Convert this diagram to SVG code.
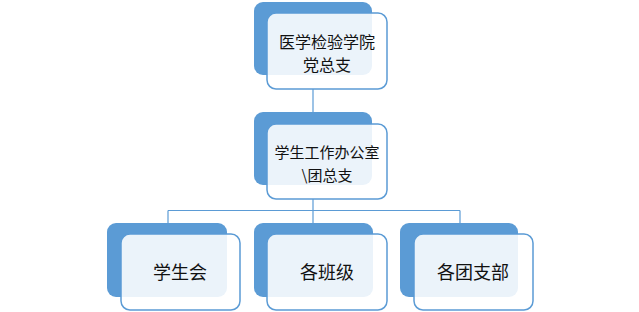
<svg xmlns="http://www.w3.org/2000/svg" width="639" height="312" viewBox="0 0 639 312">
<style>
.back{fill:#5b9bd5;}
.front{fill:#ffffff;fill-opacity:0.88;stroke:#5b9bd5;stroke-width:1.5;}
.conn{fill:none;stroke:#5b9bd5;stroke-width:1.2;}
.t{font-family:"Noto Sans CJK SC","Liberation Serif",serif;fill:#111;text-anchor:middle;}
.s15{font-size:15px;}
.s16{font-size:16px;}
.s18{font-size:18px;}
</style>
<rect width="639" height="312" fill="#ffffff"/>
<g id="connectors">
<path class="conn" d="M313,89 V112"/>
<path class="conn" d="M313,199 V223"/>
<path class="conn" d="M168,210.5 H460"/>
<path class="conn" d="M168,210.5 V223"/>
<path class="conn" d="M460,210.5 V223"/>
</g>
<g id="n1">
<rect class="back" x="254" y="2" width="118" height="73" rx="9"/>
<rect class="front" x="267" y="13" width="120" height="76" rx="9"/>
<text class="t s16" x="327" y="48">医学检验学院</text>
<text class="t s16" x="327" y="71">党总支</text>
</g>
<g id="n2">
<rect class="back" x="254" y="112" width="118" height="73" rx="9"/>
<rect class="front" x="267" y="124" width="120" height="75" rx="9"/>
<text class="t s15" x="327" y="158">学生工作办公室</text>
<text class="t s15" x="327" y="181">\团总支</text>
</g>
<g id="n3">
<rect class="back" x="107" y="223" width="120" height="74" rx="9"/>
<rect class="front" x="121" y="234" width="119" height="76" rx="9"/>
<text class="t s18" x="180" y="279">学生会</text>
</g>
<g id="n4">
<rect class="back" x="254" y="223" width="119" height="74" rx="9"/>
<rect class="front" x="267" y="234" width="120" height="76" rx="9"/>
<text class="t s18" x="327" y="279">各班级</text>
</g>
<g id="n5">
<rect class="back" x="400" y="223" width="118" height="74" rx="9"/>
<rect class="front" x="414" y="234" width="119" height="76" rx="9"/>
<text class="t s18" x="473" y="279">各团支部</text>
</g>
</svg>
